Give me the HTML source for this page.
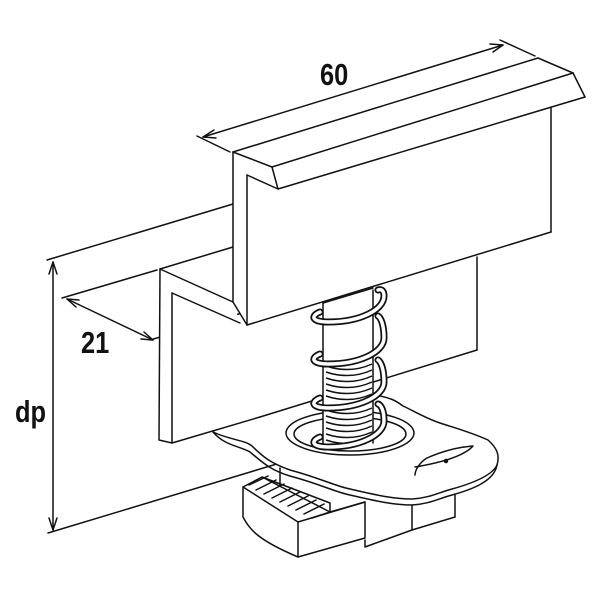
<!DOCTYPE html>
<html><head><meta charset="utf-8"><style>
html,body{margin:0;padding:0;background:#fff;}
svg{display:block}
text{font-family:"Liberation Sans",sans-serif;font-weight:bold;fill:#111;}
</style></head><body>
<svg width="600" height="600" viewBox="0 0 600 600" xmlns="http://www.w3.org/2000/svg">
<g fill="none" stroke="#111" stroke-width="1.5" stroke-linejoin="round" stroke-linecap="round">
<!-- dimension lines -->
<line x1="47" y1="260" x2="233" y2="204"/>
<line x1="62" y1="298" x2="157" y2="270"/>
<line x1="150" y1="340" x2="242" y2="313"/>
<line x1="48" y1="533" x2="280" y2="463"/>
<line x1="53" y1="262" x2="53" y2="530"/>
<polyline points="49,274 53,262 57,274"/>
<polyline points="49,518 53,530 57,518"/>
<line x1="67" y1="299" x2="153" y2="340"/>
<polyline points="79,300 67,299 76,307"/>
<polyline points="141,339 153,340 144,332"/>
<line x1="197" y1="136" x2="230" y2="152"/>
<line x1="500" y1="40" x2="535" y2="56"/>
<line x1="203" y1="137" x2="503" y2="45"/>
<polyline points="214,130 203,137 216,138"/>
<polyline points="490,44 503,45 493,52"/>

<!-- lower back plate -->
<line x1="477" y1="257" x2="477" y2="350"/>
<polyline points="260,417 477,350" />
<!-- lower Z -->
<polygon points="160,269 233,247 233,302 240,323 260,417 172,443 159,440" fill="#fff" stroke="none"/>
<polyline points="160,269 159,440 172,443 260,417"/>
<line x1="172" y1="293" x2="172" y2="443"/>
<line x1="160" y1="269" x2="233" y2="247"/>
<line x1="160" y1="269" x2="233" y2="302"/>
<line x1="172" y1="293" x2="240" y2="323"/>

<!-- top rail -->
<polygon points="233,152 538,58 573,73 585,97 551,107 551,232 247,325 233,302" fill="#fff" stroke="none"/>
<line x1="233" y1="152" x2="538" y2="58"/>
<line x1="538" y1="58" x2="573" y2="73"/>
<line x1="573" y1="73" x2="585" y2="97"/>
<line x1="272" y1="167" x2="573" y2="73"/>
<line x1="278" y1="189" x2="585" y2="97"/>
<polyline points="233,152 272,167 278,189 247,175"/>
<line x1="233" y1="152" x2="233" y2="302"/>
<line x1="247" y1="175" x2="247" y2="325"/>
<line x1="551" y1="107" x2="551" y2="232"/>
<line x1="247" y1="325" x2="551" y2="232"/>
<line x1="233" y1="302" x2="247" y2="325"/>

<!-- knob -->
<path d="M213,432 C230,440 245,440 252,446 C262,456 270,463 290,470 C320,478 335,486 350,489 C380,496 395,499 412,499 C430,498 440,492 452,489 C470,484 492,476 497,465 C500,455 497,448 488,440 C470,432 455,428 440,423 C425,418 412,410 403,406 C395,400 390,398 380,396" fill="#fff"/>
<path d="M213,432 C225,446 240,446 250,452 C262,462 270,470 290,476 C320,484 335,492 350,495 C380,502 395,505 412,505 C430,504 440,498 452,495 C470,490 494,482 497,465"/>
<ellipse cx="350" cy="433" rx="64" ry="22" fill="#fff"/>
<ellipse cx="350" cy="434" rx="56" ry="17"/>
<path d="M427,458 C445,450 460,447 473,446 C465,455 445,462 415,467"/>
<path d="M427,458 C420,462 415,470 415,475"/>
<circle cx="446" cy="461" r="1.5" fill="#111"/>

<!-- neck & nut -->
<path d="M280,468 L280,487"/>
<path d="M412,505 L412,530 L455,517 L455,494"/>
<path d="M365,540 L365,547 L412,530"/>
<path d="M243,487 L262,477 L330,512 L365,502 L365,538 L298,557 L298,522 L243,487 L243,517 C250,530 258,540 298,557" fill="#fff"/>
<path d="M298,522 L365,502"/>
<path d="M249,485 L268,476 M256,490 L276,480 M264,494 L284,484 M272,498 L292,488 M280,502 L300,492 M288,506 L308,496 M296,510 L316,500 M304,514 L324,504 M312,518 L330,512"/>
<path d="M262,477 L330,503 L330,512"/>

<!-- stud -->
<rect x="323" y="303" width="50" height="140" fill="#fff" stroke="none"/>
<line x1="323" y1="303" x2="323" y2="443"/>
<line x1="373" y1="290" x2="373" y2="443"/>
<line x1="323" y1="303" x2="373" y2="288"/>
</g>
<!-- threads -->
<g fill="none" stroke="#111" stroke-width="1.5">
<path d="M326,366 Q350,374 372,364"/><path d="M326,372 Q350,380 372,370"/>
<path d="M326,378 Q350,386 372,376"/><path d="M326,384 Q350,392 372,382"/>
<path d="M326,390 Q350,398 372,388"/><path d="M326,396 Q350,404 372,394"/>
<path d="M326,410 Q350,418 372,408"/><path d="M326,416 Q350,424 372,414"/>
<path d="M326,422 Q350,430 372,420"/><path d="M326,428 Q350,436 372,426"/>
<path d="M326,434 Q350,442 372,432"/><path d="M326,440 Q350,448 372,438"/>
</g>
<!-- spring coils -->
<g fill="none" stroke-linecap="round">
<g stroke="#111" stroke-width="7">
<path d="M320,312 C310,316 312,322 328,322 C360,322 384,310 384,296 C384,290 381,289 378,290"/>
<path d="M320,354 C310,358 312,364 328,364 C360,364 384,352 384,338 C384,325 381,318 378,316"/>
<path d="M320,398 C310,402 312,408 328,408 C360,408 384,396 384,382 C384,369 381,362 378,360"/>
<path d="M320,437 C310,441 312,447 328,447 C360,447 384,435 384,421 C384,410 381,405 378,404"/>
</g>
<g stroke="#fff" stroke-width="3.5">
<path d="M320,312 C310,316 312,322 328,322 C360,322 384,310 384,296 C384,290 381,289 378,290"/>
<path d="M320,354 C310,358 312,364 328,364 C360,364 384,352 384,338 C384,325 381,318 378,316"/>
<path d="M320,398 C310,402 312,408 328,408 C360,408 384,396 384,382 C384,369 381,362 378,360"/>
<path d="M320,437 C310,441 312,447 328,447 C360,447 384,435 384,421 C384,410 381,405 378,404"/>
</g>
</g>
<!-- labels -->
<text font-size="31" transform="translate(320,85) scale(0.82,1)">60</text>
<text font-size="31" transform="translate(81,353) scale(0.82,1)">21</text>
<text font-size="31" transform="translate(15,422) scale(0.82,1)">dp</text>
</svg>
</body></html>
